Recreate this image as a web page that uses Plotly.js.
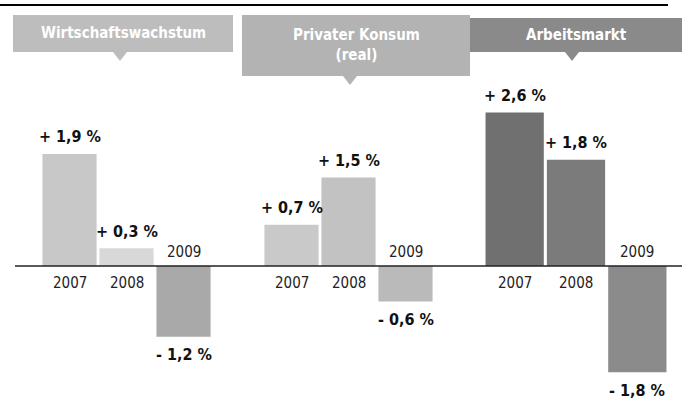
<!DOCTYPE html>
<html>
<head>
<meta charset="utf-8">
<script src="https://cdn.plot.ly/plotly-3.0.1.min.js"></script>
<style>
html,body{margin:0;padding:0;background:#fff;}
#chart{width:682px;height:401px;}
</style>
</head>
<body>
<div id="chart"></div>
<script>
// ---- data ----
const years = ['2007', '2008', '2009'];
const groupTitles = ['Wirtschaftswachstum', 'Privater Konsum<br>(real)', 'Arbeitsmarkt'];
const group1Values = [1.9, 0.3, -1.2];
const group2Values = [0.7, 1.5, -0.6];
const group3Values = [2.6, 1.8, -1.8];

// ---- styles ----
const W = 682, H = 401;
const px = v => v / W;
const py = v => 1 - v / H;
const groups = [group1Values, group2Values, group3Values];
const axisIds = ['x', 'x2', 'x3'];
const domains = [[px(41), px(212)], [px(263), px(434)], [px(484), px(668)]];
const barColors = [
  ['#c8c8c8', '#d8d8d8', '#a9a9a9'],
  ['#c9c9c9', '#c2c2c2', '#bababa'],
  ['#707070', '#7b7b7b', '#8b8b8b']
];
const boxes = [
  {x0: 13, x1: 233, y0: 15, y1: 52, fill: '#bdbdbd', tri: 120},
  {x0: 242, x1: 470, y0: 15, y1: 76, fill: '#b3b3b3', tri: 350},
  {x0: 470, x1: 682, y0: 18, y1: 52, fill: '#8a8a8a', tri: 572}
];
const valFont = {family: 'DejaVu Sans Condensed, Liberation Sans Narrow, sans-serif', size: 16, color: '#111'};
const yearFont = {family: 'DejaVu Sans Condensed, Liberation Sans Narrow, sans-serif', size: 15, color: '#222'};

const fmt = v => (v > 0 ? '+ ' : '- ') + Math.abs(v).toFixed(1).replace('.', ',') + ' %';

const traces = groups.map((vals, g) => ({
  type: 'bar',
  x: years,
  y: vals,
  xaxis: axisIds[g],
  yaxis: 'y',
  marker: {color: barColors[g], line: {width: 0}},
  hoverinfo: 'skip',
  showlegend: false
}));

const annotations = [];
groups.forEach((vals, g) => {
  vals.forEach((v, i) => {
    annotations.push({
      xref: axisIds[g], yref: 'y', x: i, y: v, xanchor: 'center', yanchor: 'middle',
      text: '<b>' + fmt(v) + '</b>', showarrow: false,
      yshift: v > 0 ? 17 : -18, font: valFont
    });
    annotations.push({
      xref: axisIds[g], yref: 'y', x: i, y: 0, xanchor: 'center', yanchor: 'middle',
      text: years[i], showarrow: false,
      yshift: v > 0 ? -17 : 14, font: yearFont
    });
  });
});

const shapes = [
  {type: 'line', xref: 'paper', yref: 'paper', x0: 0, x1: px(668), y0: py(5), y1: py(5),
   line: {color: '#000', width: 2}},
  {type: 'line', xref: 'paper', yref: 'y', x0: px(15), x1: 1, y0: 0, y1: 0,
   line: {color: '#222', width: 1.5}}
];
boxes.forEach((b, g) => {
  shapes.push({type: 'rect', xref: 'paper', yref: 'paper', layer: 'below',
    x0: px(b.x0), x1: px(b.x1), y0: py(b.y1), y1: py(b.y0),
    fillcolor: b.fill, line: {width: 0}});
  shapes.push({type: 'path', xref: 'paper', yref: 'paper', layer: 'below',
    path: 'M ' + px(b.tri - 7) + ' ' + py(b.y1) + ' L ' + px(b.tri + 7) + ' ' + py(b.y1) +
          ' L ' + px(b.tri) + ' ' + py(b.y1 + 9) + ' Z',
    fillcolor: b.fill, line: {width: 0}});
  annotations.push({xref: 'paper', yref: 'paper', xanchor: 'center', yanchor: 'middle',
    x: px((b.x0 + b.x1) / 2), y: py((b.y0 + b.y1) / 2),
    text: '<b>' + groupTitles[g] + '</b>', showarrow: false,
    font: {family: 'DejaVu Sans Condensed, sans-serif', size: 15, color: '#ffffff'}});
});

const layout = {
  width: W, height: H,
  margin: {l: 0, r: 0, t: 0, b: 0},
  paper_bgcolor: '#fff', plot_bgcolor: 'rgba(0,0,0,0)',
  bargap: 0.05,
  showlegend: false,
  yaxis: {range: [-2.288, 4.508], autorange: false, visible: false, fixedrange: true},
  annotations: annotations,
  shapes: shapes
};
axisIds.forEach((id, g) => {
  const key = id === 'x' ? 'xaxis' : 'xaxis' + id.slice(1);
  layout[key] = {domain: domains[g], anchor: 'y', visible: false, type: 'category',
    range: [-0.5, 2.5], autorange: false, fixedrange: true};
});

Plotly.newPlot('chart', traces, layout, {displayModeBar: false, staticPlot: true});
</script>
</body>
</html>
